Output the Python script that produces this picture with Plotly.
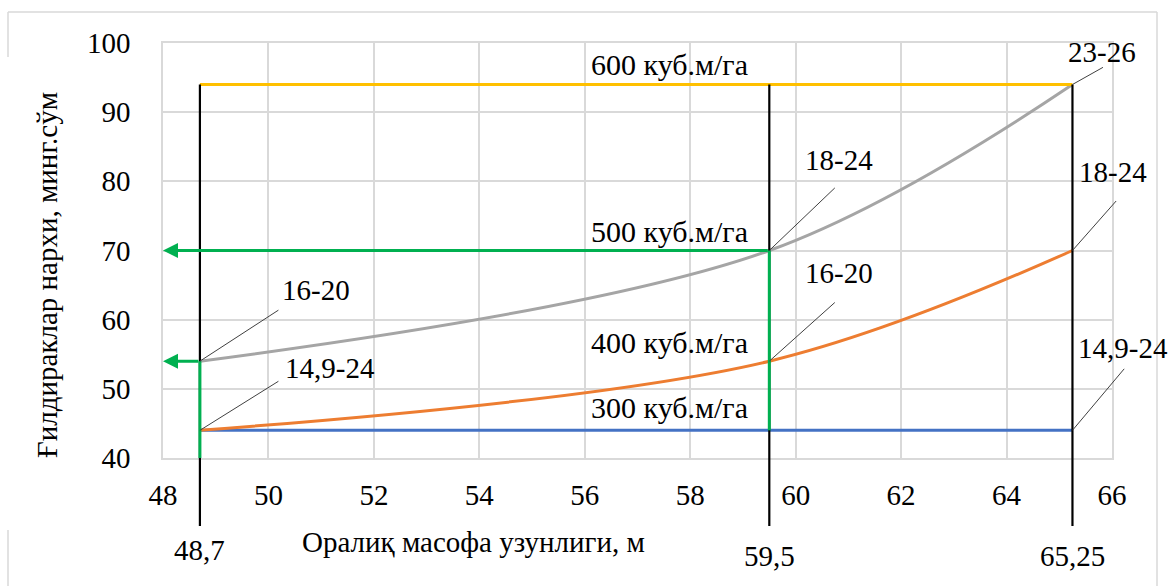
import plotly.graph_objects as go

# Span lengths (m) at which the wheel price was evaluated
span_x = [48.7, 59.5, 65.25]
span_tick_text = ["48,7", "59,5", "65,25"]

# Wheel price (thousand sum) for each irrigation rate
rate_names = ["300 куб.м/га", "400 куб.м/га", "500 куб.м/га", "600 куб.м/га"]
price_300 = [44, 44, 44]
price_400 = [44, 54, 70]
price_500 = [54, 70, 94]
price_600 = [94, 94, 94]

# Wheel size ranges annotated at individual points
point_x = [48.7, 48.7, 59.5, 59.5, 65.25, 65.25, 65.25]
point_y = [54, 44, 70, 54, 94, 70, 44]
point_text = ["16-20", "14,9-24", "18-24", "16-20", "23-26", "18-24", "14,9-24"]

# Read-off guides: price levels carried to the price axis
guide_x = [59.5, 48.7]
guide_y = [70, 54]

x_ticks = [48, 50, 52, 54, 56, 58, 60, 62, 64, 66]
y_ticks = [40, 50, 60, 70, 80, 90, 100]

W, H = 1172, 586
ML, MR, MT, MB = 163, 60, 43, 128
PW, PH = W - ML - MR, H - MT - MB

FONT = "Times New Roman"
GRID = "#d9d9d9"
GREEN = "#00b050"
colors = ["#4472c4", "#ed7d31", "#a5a5a5", "#ffc000"]


def paper(px, py):
    """Figure pixel position -> paper coordinates."""
    return (px - ML) / PW, (H - MB - py) / PH


def txt_font(size=29):
    return dict(family=FONT, size=size, color="black")


fig = go.Figure()
for name, ys, c in zip(rate_names, [price_300, price_400, price_500, price_600], colors):
    fig.add_trace(go.Scatter(
        x=span_x, y=ys, name=name, mode="lines",
        line=dict(color=c, width=3, shape="spline", smoothing=1.0),
        hoverinfo="skip", showlegend=False,
    ))

shapes = []
# black drop lines from the top level down below the axis
bottom_px = 526
for x in span_x:
    shapes.append(dict(type="line", xref="x", yref="paper",
                       x0=x, x1=x, y0=paper(0, bottom_px)[1], y1=(price_600[0] - 40) / 60,
                       line=dict(color="black", width=2.2)))
# green vertical guides
shapes.append(dict(type="line", xref="x", yref="y", x0=span_x[0], x1=span_x[0],
                   y0=40, y1=price_500[0], line=dict(color=GREEN, width=3)))
shapes.append(dict(type="line", xref="x", yref="y", x0=span_x[1], x1=span_x[1],
                   y0=price_300[1], y1=price_500[1], line=dict(color=GREEN, width=3)))

# outer frame
fx0, fy0 = paper(8, 12)
fx1, _ = paper(1157, 0)
_, fyb = paper(0, 590)
_, fg0 = paper(0, 57)
_, fg1 = paper(0, 530)
frame = dict(color=GRID, width=1.5)
shapes += [
    dict(type="line", xref="paper", yref="paper", x0=fx0, x1=fx1, y0=fy0, y1=fy0, line=frame),
    dict(type="line", xref="paper", yref="paper", x0=fx1, x1=fx1, y0=fy0, y1=fyb, line=frame),
    dict(type="line", xref="paper", yref="paper", x0=fx0, x1=fx0, y0=fy0, y1=fg0, line=frame),
    dict(type="line", xref="paper", yref="paper", x0=fx0, x1=fx0, y0=fg1, y1=fyb, line=frame),
]

annotations = []
# green arrows to the price axis
for gx, gy in zip(guide_x, guide_y):
    annotations.append(dict(x=48, y=gy, xref="x", yref="y", ax=gx, ay=gy,
                            axref="x", ayref="y", text="", showarrow=True,
                            arrowhead=2, arrowsize=1, arrowwidth=3,
                            arrowcolor=GREEN, standoff=0, startstandoff=0))

# leader lines and size-range labels
leader_off = [(80, -52), (80, -50), (67, -64), (67, -60), (32, -18), (45, -51), (53, -63)]
text_off = [(116, 71), (130, 62), (70, 91), (70, 88), (30, 33), (41, 79), (51, 82)]
for x, y, t, (dx, dy), (tx, ty) in zip(point_x, point_y, point_text, leader_off, text_off):
    annotations.append(dict(x=x, y=y, xref="x", yref="y", ax=dx, ay=dy,
                            text="", showarrow=True, arrowhead=0, arrowwidth=1,
                            arrowcolor="#404040", standoff=0))
    annotations.append(dict(x=x, y=y, xref="x", yref="y", text=t, showarrow=False,
                            xanchor="center", yanchor="middle",
                            xshift=tx, yshift=ty, font=txt_font()))

# irrigation rate labels
for name, py in zip(rate_names, [407, 342, 232, 65]):
    px_, py_ = paper(669, py)
    annotations.append(dict(x=px_, y=py_, xref="paper", yref="paper", text=name,
                            xanchor="center", yanchor="middle",
                            showarrow=False, font=txt_font(30)))

# span values under the drop lines
for x, t, py in zip(span_x, span_tick_text, [550, 556, 556]):
    annotations.append(dict(x=x, y=paper(0, py)[1], xref="x", yref="paper", text=t,
                            xanchor="center", yanchor="middle",
                            showarrow=False, font=txt_font()))

# axis titles
tx_, ty_ = paper(473, 542)
annotations.append(dict(x=tx_, y=ty_, xref="paper", yref="paper",
                        text="Оралиқ масофа узунлиги, м", showarrow=False,
                        xanchor="center", yanchor="middle", font=txt_font()))
tx_, ty_ = paper(47, 275)
annotations.append(dict(x=tx_, y=ty_, xref="paper", yref="paper",
                        text="Ғилдираклар нархи, минг.сўм", showarrow=False, textangle=-90,
                        xanchor="center", yanchor="middle", font=txt_font()))

axis_common = dict(showgrid=True, gridcolor=GRID, gridwidth=1.5, zeroline=False,
                   showline=True, linecolor=GRID, linewidth=1.5, mirror=True,
                   ticks="outside", tickcolor="rgba(0,0,0,0)",
                   tickfont=txt_font())

fig.update_layout(
    width=W, height=H,
    margin=dict(l=ML, r=MR, t=MT, b=MB),
    paper_bgcolor="white", plot_bgcolor="white",
    font=dict(family=FONT),
    xaxis=dict(range=[48, 66], tickvals=x_ticks, ticklen=10, **axis_common),
    yaxis=dict(range=[40, 100], tickvals=y_ticks, ticklen=25, **axis_common),
    shapes=shapes, annotations=annotations,
    showlegend=False,
)

fig.write_html("out.html")
